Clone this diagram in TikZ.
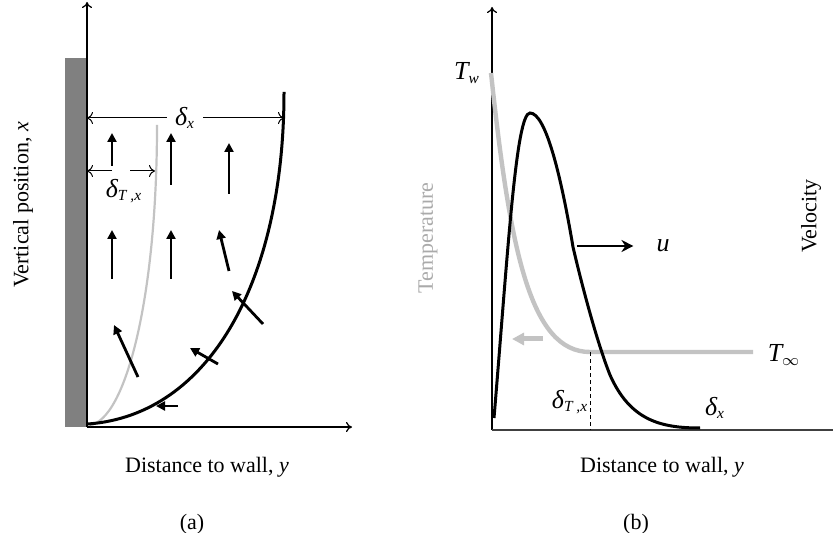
\documentclass[tikz,border=0pt]{standalone}
\usepackage{fontspec}
\setmainfont{Liberation Serif}
\usetikzlibrary{arrows.meta,positioning}
\definecolor{wallgrey}{RGB}{128,128,128}
\definecolor{tgrey}{RGB}{195,195,195}
\definecolor{labgrey}{RGB}{170,170,170}
\newcommand{\dl}[2]{{\fontsize{13}{15}\selectfont\itshape #1}\textsubscript{\itshape #2}}

\begin{document}
\begin{tikzpicture}[x=0.5pt,y=-0.5pt,font=\fontsize{11}{13}\selectfont,
  axis/.style={line width=0.6pt,-{To[length=3pt,width=5pt]}},
  flow/.style={line width=1.4pt,-{Triangle[length=4.5pt,width=4.5pt]}},
  dim/.style={line width=0.5pt,-{To[length=3pt,width=6pt]}}]
\useasboundingbox (0,0) rectangle (833,533);

% (a) wall and boundary layers
\fill[wallgrey] (65,58) rectangle (87,427);
\coordinate (Oa) at (87,427); \coordinate (xa) at (87,2); \coordinate (ya) at (352,427);
\draw[axis] (Oa) -- (xa);
\draw[axis] (Oa) -- (ya);
\draw[tgrey,line width=1.1pt] (90,425) .. controls (125,420) and (157,300) .. (157,125);
\draw[line width=1.5pt] (88,424) .. controls (210,415) and (284,280) .. (284,92);

\node[inner xsep=4pt] (dxa) at (185,118) {\dl{δ}{x}};
\coordinate (wa1) at (87,118); \coordinate (ca1) at (284,118);
\draw[dim] (dxa.west) -- (wa1);
\draw[dim] (dxa.east) -- (ca1);
\coordinate (wa2) at (87,171); \coordinate (ma) at (112,171);
\coordinate (mb) at (130,171); \coordinate (ga2) at (155,171);
\draw[dim] (ma) -- (wa2);
\draw[dim] (mb) -- (ga2);
\node (dta) at (124,191) {\dl{δ}{T ,x}};

\foreach \xa/\ya/\xb/\yb in {112/166/112/133, 171/185/171/133, 229/194/229/143,
  112/279/112/230, 171/279/171/230, 229/271/219/230, 263/324/232/291,
  138/377/114/325, 218/364/190/348, 178/406/156/406}
  \draw[flow] (\xa,\ya) -- (\xb,\yb);

\node[rotate=90] (vpos) at (23,205) {Vertical position, \textit{x}};
\node[anchor=base] (dista) at (207,472) {Distance to wall, \textit{y}};
\node[anchor=base] (capa) at (192,529) {(a)};

% (b) profiles
\coordinate (Ob) at (492,430); \coordinate (tb) at (492,7); \coordinate (rb) at (833,430);
\draw[axis] (Ob) -- (tb);
\draw[black!75,line width=0.6pt] (Ob) -- (rb);
\draw[tgrey,line width=2.2pt] (491,73) .. controls (510,250) and (530,352) .. (590,352) -- (753,352);
\draw[line width=1.5pt] (494,418) .. controls (508,250) and (516,113) .. (530,113)
  .. controls (545,113) and (560,170) .. (573,247)
  .. controls (583,290) and (598,345) .. (610,375)
  .. controls (630,420) and (660,428) .. (700,428);
\coordinate (dtop) at (590,352); \coordinate (dbot) at (590,430);
\draw[line width=0.5pt,dash pattern=on 2pt off 1.5pt] (dtop) -- (dbot);
\coordinate (ga) at (543,339); \coordinate (gb) at (512,339);
\draw[tgrey,line width=2.5pt,-{Triangle[length=6pt,width=6pt]}] (ga) -- (gb);
\node (ulab) at (663,246) {{\fontsize{13}{15}\selectfont\textit{u}}};
\coordinate (ua) at (577,246);
\draw[line width=1pt,-{Stealth[length=6pt,width=6pt]}] (ua) -- ([xshift=-8pt]ulab.west);

\node (Tw) at (467,73) {\dl{T}{w}};
\node (Tinf) at (784,355) {\dl{T}{$\infty$}};
\node (dTb) at (570,402) {\dl{δ}{T ,x}};
\node (dxb) at (715,408) {\dl{δ}{x}};
\node[rotate=90,labgrey] (temp) at (428,238) {Temperature};
\node[rotate=90] (vel) at (811,216) {Velocity};
\node[anchor=base] (distb) at (662,472) {Distance to wall, \textit{y}};
\node[anchor=base] (capb) at (636,529) {(b)};
\end{tikzpicture}
\end{document}
